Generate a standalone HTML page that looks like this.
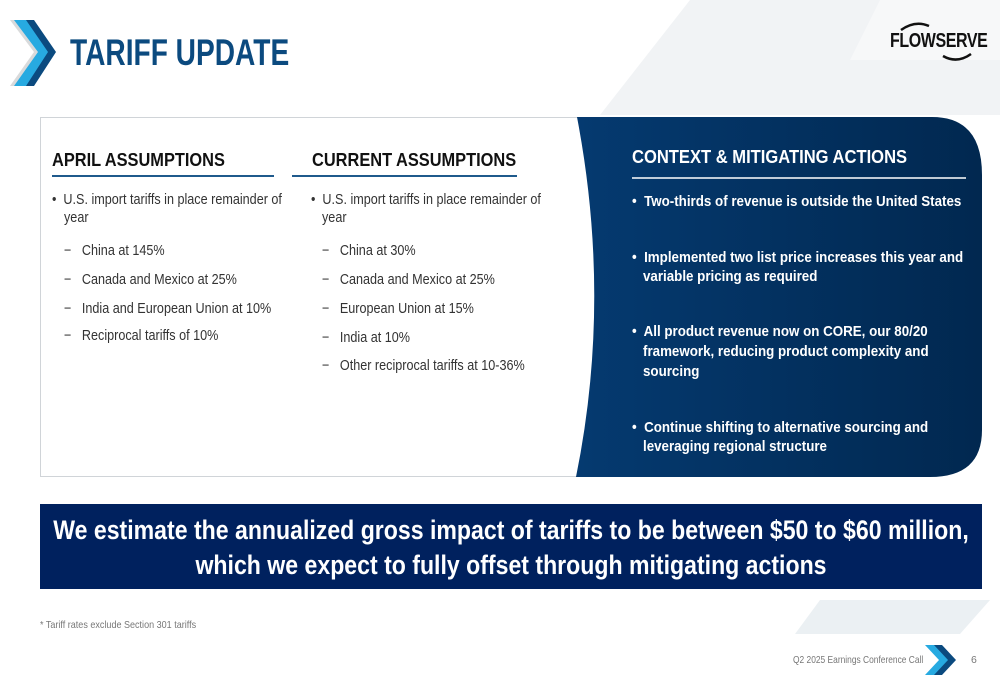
<!DOCTYPE html>
<html><head><meta charset="utf-8">
<style>
*{margin:0;padding:0;box-sizing:border-box}
body{width:1000px;height:685px;overflow:hidden;background:#fff;position:relative;font-family:"Liberation Sans",sans-serif}
.abs{position:absolute;white-space:nowrap;transform-origin:0 0}
.h{font-weight:bold;font-size:18px;color:#111;transform:scaleX(0.91)}
.t{font-size:14.5px;color:#333;transform:scaleX(0.87)}
.w{font-size:15px;color:#fff;font-weight:bold;transform:scaleX(0.89)}
</style></head><body>
<svg class="abs" style="left:0;top:0" width="1000" height="685">
<polygon points="690,0 1000,0 1000,115 600,115" fill="#f1f3f5"/>
<polygon points="880,0 1000,0 1000,60 850,60" fill="#f7f8f9"/>
<polygon points="820,600 990,600 960,634 795,634" fill="#ebf0f3"/>
<polygon points="10,20 24,20 48,52 24,86 10,86 34,52" fill="#d9dadb"/>
<polygon points="14,20 30,20 54,52 30,86 14,86 38,52" fill="#27aae1"/>
<polygon points="26,20 34,20 56,52 34,86 26,86 48,52" fill="#0b4a7f"/>
<rect x="40.5" y="117.5" width="560" height="359" fill="#fff" stroke="#d0d4d8"/>
<defs><linearGradient id="g" x1="0" x2="1"><stop offset="0" stop-color="#053a70"/><stop offset="1" stop-color="#012850"/></linearGradient></defs>
<path d="M577,117 L932,117 Q982,117 982,175 L982,430 Q982,477 930,477 L576,477 Q612,300 577,117 Z" fill="url(#g)"/>
<line x1="52" y1="176" x2="274" y2="176" stroke="#1f5a8c" stroke-width="2"/>
<line x1="292" y1="176" x2="517" y2="176" stroke="#1f5a8c" stroke-width="2"/>
<line x1="632" y1="178" x2="966" y2="178" stroke="#fff" stroke-width="1.5"/>
<polygon points="925,645 938,645 952,660 938,675 925,675 939,660" fill="#27aae1"/>
<polygon points="934,645 942,645 956,660 942,675 934,675 948,660" fill="#0b4a7f"/>
</svg>

<div class="abs" style="left:70px;top:32px;font-size:37px;font-weight:bold;color:#0b4a7f;transform:scaleX(0.76)">TARIFF UPDATE</div>
<div class="abs" style="left:890px;top:30px;font-size:20px;font-weight:bold;color:#111;letter-spacing:-0.5px;transform:scaleX(0.8)">FLOWSERVE</div>
<svg class="abs" style="left:895px;top:20px" width="90" height="45"><path d="M6,10 Q20,0 34,6" stroke="#111" stroke-width="2.5" fill="none"/><path d="M48,36 Q62,44 76,34" stroke="#111" stroke-width="2.5" fill="none"/></svg>

<div class="abs h" style="left:52px;top:150px">APRIL ASSUMPTIONS</div>
<div class="abs t" style="left:52px;top:192px">•&nbsp; U.S. import tariffs in place remainder of</div>
<div class="abs t" style="left:64px;top:210px">year</div>
<div class="abs t" style="left:64px;top:243px">−&nbsp;&nbsp; China at 145%</div>
<div class="abs t" style="left:64px;top:272px">−&nbsp;&nbsp; Canada and Mexico at 25%</div>
<div class="abs t" style="left:64px;top:301px">−&nbsp;&nbsp; India and European Union at 10%</div>
<div class="abs t" style="left:64px;top:328px">−&nbsp;&nbsp; Reciprocal tariffs of 10%</div>

<div class="abs h" style="left:312px;top:150px">CURRENT ASSUMPTIONS</div>
<div class="abs t" style="left:311px;top:192px">•&nbsp; U.S. import tariffs in place remainder of</div>
<div class="abs t" style="left:322px;top:210px">year</div>
<div class="abs t" style="left:322px;top:243px">−&nbsp;&nbsp; China at 30%</div>
<div class="abs t" style="left:322px;top:272px">−&nbsp;&nbsp; Canada and Mexico at 25%</div>
<div class="abs t" style="left:322px;top:301px">−&nbsp;&nbsp; European Union at 15%</div>
<div class="abs t" style="left:322px;top:330px">−&nbsp;&nbsp; India at 10%</div>
<div class="abs t" style="left:322px;top:358px">−&nbsp;&nbsp; Other reciprocal tariffs at 10-36%</div>

<div class="abs" style="left:632px;top:147px;font-size:18px;font-weight:bold;color:#fff;transform:scaleX(0.92)">CONTEXT &amp; MITIGATING ACTIONS</div>
<div class="abs w" style="left:632px;top:193px">•&nbsp; Two-thirds of revenue is outside the United States</div>
<div class="abs w" style="left:632px;top:249px">•&nbsp; Implemented two list price increases this year and</div>
<div class="abs w" style="left:643px;top:268px">variable pricing as required</div>
<div class="abs w" style="left:632px;top:323px">•&nbsp; All product revenue now on CORE, our 80/20</div>
<div class="abs w" style="left:643px;top:343px">framework, reducing product complexity and</div>
<div class="abs w" style="left:643px;top:363px">sourcing</div>
<div class="abs w" style="left:632px;top:419px">•&nbsp; Continue shifting to alternative sourcing and</div>
<div class="abs w" style="left:643px;top:438px">leveraging regional structure</div>

<div class="abs" style="left:40px;top:504px;width:942px;height:85px;background:#00215e"></div>
<div class="abs" style="left:-39px;top:513px;width:1100px;color:#fff;font-weight:bold;font-size:27px;text-align:center;line-height:35px;transform:scaleX(0.855);transform-origin:550px 0">We estimate the annualized gross impact of tariffs to be between $50 to $60 million,<br>which we expect to fully offset through mitigating actions</div>

<div class="abs" style="left:40px;top:619px;font-size:10.5px;color:#777;transform:scaleX(0.86)">* Tariff rates exclude Section 301 tariffs</div>
<div class="abs" style="left:793px;top:654px;font-size:10.5px;color:#777;transform:scaleX(0.8)">Q2 2025 Earnings Conference Call</div>
<div class="abs" style="left:971px;top:654px;font-size:10.5px;color:#777">6</div>
</body></html>
